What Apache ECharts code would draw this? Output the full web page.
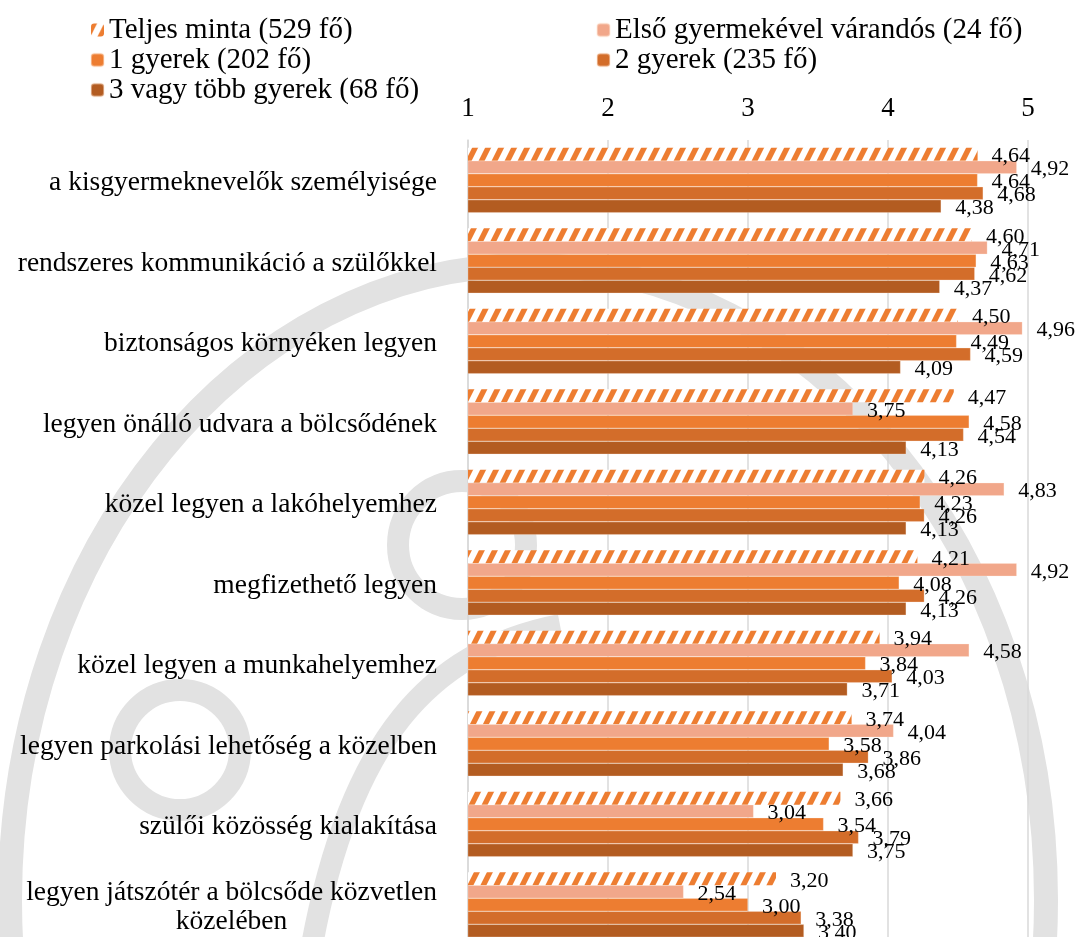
<!DOCTYPE html>
<html>
<head>
<meta charset="utf-8">
<script src="https://cdn.jsdelivr.net/npm/echarts@6/dist/echarts.min.js"></script>
<style>
html,body{margin:0;padding:0;background:#fff;overflow:hidden;}
#chart{width:1076px;height:945px;}
</style>
</head>
<body>
<div id="chart"></div>
<script>
const categories = [
  'a kisgyermeknevelők személyisége',
  'rendszeres kommunikáció a szülőkkel',
  'biztonságos környéken legyen',
  'legyen önálló udvara a bölcsődének',
  'közel legyen a lakóhelyemhez',
  'megfizethető legyen',
  'közel legyen a munkahelyemhez',
  'legyen parkolási lehetőség a közelben',
  'szülői közösség kialakítása',
  'legyen játszótér a bölcsőde közvetlen\nközelében'
];
const seriesNames = [
  'Teljes minta (529 fő)',
  'Első gyermekével várandós (24 fő)',
  '1 gyerek (202 fő)',
  '2 gyerek (235 fő)',
  '3 vagy több gyerek (68 fő)'
];
const teljes   = [4.64, 4.60, 4.50, 4.47, 4.26, 4.21, 3.94, 3.74, 3.66, 3.20];
const elso     = [4.92, 4.71, 4.96, 3.75, 4.83, 4.92, 4.58, 4.04, 3.04, 2.54];
const egy      = [4.64, 4.63, 4.49, 4.58, 4.23, 4.08, 3.84, 3.58, 3.54, 3.00];
const ketto    = [4.68, 4.62, 4.59, 4.54, 4.26, 4.26, 4.03, 3.86, 3.79, 3.38];
const harom    = [4.38, 4.37, 4.09, 4.13, 4.13, 4.13, 3.71, 3.68, 3.75, 3.40];
const xTicks = [1, 2, 3, 4, 5];

const FONT = '"Liberation Serif", "Times New Roman", serif';

// hatch pattern
const pc = document.createElement('canvas');
pc.width = 13; pc.height = 26;
const g = pc.getContext('2d');
g.fillStyle = '#ffffff';
g.fillRect(0, 0, 13, 26);
g.fillStyle = '#ED7D31';
for (let k = -2; k <= 2; k++) {
  const o = k * 13;
  g.beginPath();
  g.moveTo(o, 26);
  g.lineTo(o + 6, 26);
  g.lineTo(o + 19, 0);
  g.lineTo(o + 13, 0);
  g.closePath();
  g.fill();
}
const hatch = { image: pc, repeat: 'repeat' };

const colors = [hatch, '#F1A78A', '#ED7D31', '#D36D2A', '#B35C21'];
const dataSets = [teljes, elso, egy, ketto, harom];

const fmt = p => p.value.toFixed(2).replace('.', ',');

const series = dataSets.map((d, i) => ({
  name: seriesNames[i],
  type: 'bar',
  data: d,
  barWidth: 13,
  barGap: '0%',
  itemStyle: {
    color: colors[i],
    borderColor: i === 0 ? 'rgba(0,0,0,0)' : 'rgba(255,235,220,0.45)',
    borderWidth: i === 0 ? 0 : 0.6
  },
  label: {
    show: true,
    position: 'right',
    distance: 14,
    offset: [0, 2],
    formatter: fmt,
    fontFamily: FONT,
    fontSize: 22,
    color: '#000'
  },
  z: 3
}));

const WM = '#E2E2E2';
const chart = echarts.init(document.getElementById('chart'), null, { renderer: 'canvas' });
chart.setOption({
  animation: false,
  backgroundColor: '#ffffff',
  graphic: [
    { type: 'ellipse', silent: true, z: -10,
      shape: { cx: 528, cy: 900, rx: 518, ry: 635 },
      style: { fill: 'none', stroke: WM, lineWidth: 24 } },
    { type: 'circle', silent: true, z: -10,
      shape: { cx: 180, cy: 750, r: 60 },
      style: { fill: 'none', stroke: WM, lineWidth: 22 } },
    { type: 'circle', silent: true, z: -10,
      shape: { cx: 462, cy: 545, r: 64 },
      style: { fill: 'none', stroke: WM, lineWidth: 22 } },
    { type: 'bezierCurve', silent: true, z: -10,
      shape: { x1: 312, y1: 945, x2: 560, y2: 625, cpx1: 350, cpy1: 740, cpx2: 430, cpy2: 650 },
      style: { fill: 'none', stroke: WM, lineWidth: 22 } }
  ],
  legend: [
    {
      data: [seriesNames[0], seriesNames[2], seriesNames[4]],
      orient: 'vertical',
      left: 85, top: 10,
      itemWidth: 13, itemHeight: 13,
      itemGap: 0,
      textStyle: { fontFamily: FONT, fontSize: 29, color: '#000', lineHeight: 30 },
      selectedMode: false
    },
    {
      data: [seriesNames[1], seriesNames[3]],
      orient: 'vertical',
      left: 591, top: 10,
      itemWidth: 13, itemHeight: 13,
      itemGap: 0,
      textStyle: { fontFamily: FONT, fontSize: 29, color: '#000', lineHeight: 30 },
      selectedMode: false
    }
  ],
  grid: { left: 468, right: 48, top: 140, bottom: 0, containLabel: false },
  xAxis: {
    type: 'value',
    position: 'top',
    min: xTicks[0], max: xTicks[xTicks.length - 1], interval: 1,
    axisLine: { show: false },
    axisTick: { show: false },
    axisLabel: { fontFamily: FONT, fontSize: 27, color: '#000', margin: 18 },
    splitLine: { show: true, lineStyle: { color: '#D9D9D9', width: 1.5 } }
  },
  yAxis: {
    type: 'category',
    data: categories,
    inverse: true,
    axisLine: { show: true, lineStyle: { color: '#D9D9D9', width: 1.5 } },
    axisTick: { show: false },
    axisLabel: {
      fontFamily: FONT, fontSize: 27.5, color: '#000', margin: 31,
      padding: [6, 0, 0, 0],
      formatter: v => v.split('\n').map(s => '{c|' + s + '}').join('\n'),
      rich: { c: { fontFamily: FONT, fontSize: 27.5, color: '#000', align: 'center', lineHeight: 29 } }
    }
  },
  series: series
});
</script>
</body>
</html>
